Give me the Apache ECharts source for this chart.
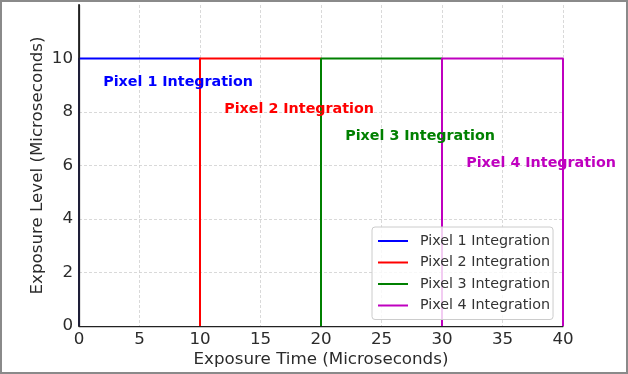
<!DOCTYPE html>
<html>
<head>
<meta charset="utf-8">
<script src="https://cdn.jsdelivr.net/npm/echarts@6/dist/echarts.min.js"></script>
<style>
html,body{margin:0;padding:0;background:#fff;}
#chart{width:628px;height:374px;}
</style>
</head>
<body>
<div id="chart"></div>
<script>
// ---- data ----
const seriesNames = ['Pixel 1 Integration','Pixel 2 Integration','Pixel 3 Integration','Pixel 4 Integration'];
const startTimes = [0, 10, 20, 30];
const endTimes = [10, 20, 30, 40];
const exposureLevel = [10, 10, 10, 10];
const labelX = [2, 12, 22, 32];
const labelY = [9.1, 8.1, 7.1, 6.1];
const xTicks = [0, 5, 10, 15, 20, 25, 30, 35, 40];
const yTicks = [0, 2, 4, 6, 8, 10];

const colors = ['#0000ff', '#ff0000', '#008000', '#bf00bf'];
const FONT = 'DejaVu Sans';

const lineSeries = seriesNames.map((name, i) => ({
  name: name,
  type: 'line',
  data: [[startTimes[i], 0], [startTimes[i], exposureLevel[i]], [endTimes[i], exposureLevel[i]], [endTimes[i], 0]],
  symbol: 'none',
  showSymbol: false,
  clip: true,
  lineStyle: { color: colors[i], width: 2 },
  itemStyle: { color: colors[i] },
  z: 2 + i * 0.01
}));

const labelSeries = {
  name: 'labels',
  type: 'scatter',
  symbolSize: 0,
  silent: true,
  z: 5,
  itemStyle: { opacity: 1 },
  data: seriesNames.map((n, i) => ({
    value: [labelX[i], labelY[i]],
    name: n,
    label: { color: colors[i] }
  })),
  label: {
    show: true,
    position: 'right',
    distance: 0,
    formatter: p => p.name,
    fontFamily: FONT,
    fontWeight: 'bold',
    fontSize: 14.3,
    opacity: 1
  }
};

const chart = echarts.init(document.getElementById('chart'), null, { renderer: 'canvas' });
chart.setOption({
  animation: false,
  backgroundColor: '#ffffff',
  textStyle: { fontFamily: FONT },
  grid: { left: 79, right: 65, top: 5, bottom: 48 },
  graphic: [{
    type: 'rect',
    shape: { x: 1, y: 1, width: 626, height: 372 },
    style: { fill: 'none', stroke: '#8a8a8a', lineWidth: 2 },
    silent: true,
    z: 100
  }],
  legend: {
    data: seriesNames.map(n => ({ name: n, icon: 'rect' })),
    orient: 'vertical',
    left: 372,
    top: 227,
    itemWidth: 30,
    itemHeight: 2,
    itemGap: 5.5,
    padding: [6, 3, 6, 6],
    backgroundColor: 'rgba(255,255,255,0.8)',
    borderColor: '#cccccc',
    borderWidth: 1,
    borderRadius: 3,
    textStyle: { fontFamily: FONT, fontSize: 14.3, color: '#333', lineHeight: 16, padding: [0, 0, 0, 7] },
    z: 20
  },
  xAxis: {
    type: 'value',
    min: xTicks[0],
    max: xTicks[xTicks.length - 1],
    interval: xTicks[1] - xTicks[0],
    name: 'Exposure Time (Microseconds)',
    nameLocation: 'middle',
    nameGap: 25,
    nameMoveOverlap: false,
    nameTextStyle: { fontFamily: FONT, fontSize: 16.7, color: '#2b2b2b' },
    axisLine: { show: true, lineStyle: { color: '#222', width: 1.25 } },
    axisTick: { show: false },
    axisLabel: { fontFamily: FONT, fontSize: 16.7, color: '#2b2b2b', margin: 5 },
    splitLine: { show: true, lineStyle: { color: '#cfcfcf', width: 0.8, type: [3, 2] } }
  },
  yAxis: [{
    type: 'value',
    min: 0,
    max: 12,
    interval: yTicks[1] - yTicks[0],
    name: 'Exposure Level (Microseconds)',
    nameLocation: 'middle',
    nameGap: 33,
    nameMoveOverlap: false,
    nameTextStyle: { fontFamily: FONT, fontSize: 16.7, color: '#2b2b2b' },
    axisLine: { show: true, lineStyle: { color: '#222', width: 1.25 } },
    axisTick: { show: false },
    axisLabel: { fontFamily: FONT, fontSize: 16.7, color: '#2b2b2b', margin: 6, showMaxLabel: false },
    splitLine: { show: true, showMaxLine: false, lineStyle: { color: '#cfcfcf', width: 0.8, type: [3, 2] } }
  }, {
    type: 'value',
    min: 0,
    max: 12,
    position: 'left',
    offset: 0,
    z: 10,
    axisLine: { show: true, lineStyle: { color: '#222', width: 1.8 } },
    axisTick: { show: false },
    axisLabel: { show: false },
    splitLine: { show: false }
  }],
  series: lineSeries.concat([labelSeries])
});
</script>
</body>
</html>
